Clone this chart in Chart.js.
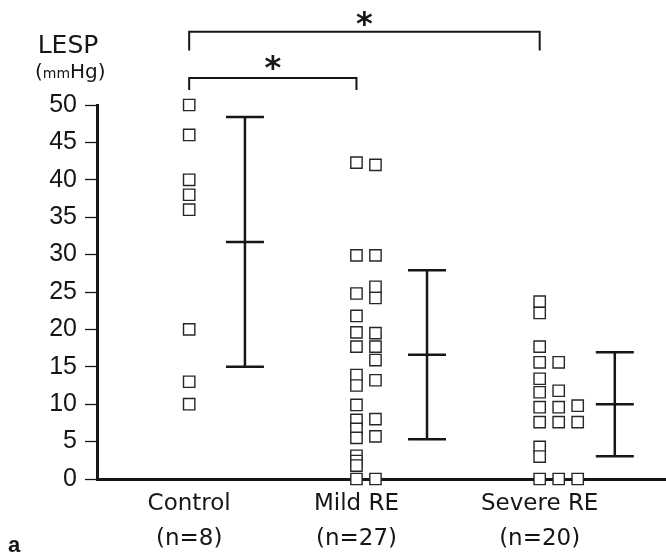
<!DOCTYPE html>
<html>
<head>
<meta charset="utf-8">
<title>LESP</title>
<script src="https://cdn.jsdelivr.net/npm/chart.js@4.4.1/dist/chart.umd.min.js"></script>
<style>
	html, body { margin: 0; padding: 0; background: #fff; }
	#wrap { width: 666px; height: 555px; position: relative; }
</style>
</head>
<body>
<div id="wrap"><canvas id="chart"></canvas></div>
<script>

// :: 1.0 Data
// :: 2.0 Plugins (error bars, brackets, labels)
// :: 3.0 Chart

// :: 1.0 Data
const groups = ['Control', 'Mild RE', 'Severe RE'];
const groupN = ['(n=8)', '(n=27)', '(n=20)'];
const yTicks = [0, 5, 10, 15, 20, 25, 30, 35, 40, 45, 50];

const controlVals = [50, 46, 40, 38, 36, 20, 13, 10];
const mildCol1 = [42.3, 29.9, 24.8, 21.8, 19.6, 17.7, 13.9, 12.5, 9.9, 7.9, 6.7, 5.5, 3.1, 2.4, 1.8, 0];
const mildCol2 = [42.0, 29.9, 25.7, 24.2, 19.5, 17.7, 15.9, 13.2, 8.0, 5.7, 0];
const severeCol1 = [23.7, 22.2, 17.7, 15.6, 13.4, 11.6, 9.6, 7.6, 4.3, 3.0, 0];
const severeCol2 = [15.6, 11.8, 9.6, 7.6, 0];
const severeCol3 = [9.8, 7.6, 0];

const meanVals = [31.7, 16.6, 10.0];
const sdVals = [16.7, 11.3, 6.95];

// layout on the x scale (0..10)
const groupX = [1.62, 4.56, 7.78];
const barX = [2.6, 5.8, 9.1];
const colStep = 0.334;

const ink = '#161616';

function column(vals, g, col) {
	return {
		data: vals.map(v => ({ x: groupX[g] + col * colStep, y: v })),
		pointStyle: 'rect',
		pointRadius: 8,
		pointHoverRadius: 8,
		pointBorderWidth: 1.4,
		pointBorderColor: '#262626',
		pointBackgroundColor: '#fff',
		showLine: false,
		clip: false
	};
}

// :: 2.0 Plugins
const errorBars = {
	id: 'errorBars',
	afterDatasetsDraw(chart) {
		const ctx = chart.ctx, x = chart.scales.x, y = chart.scales.y;
		ctx.save();
		ctx.strokeStyle = ink;
		ctx.lineWidth = 2.5;
		meanVals.forEach((m, i) => {
			const px = x.getPixelForValue(barX[i]);
			const top = y.getPixelForValue(m + sdVals[i]);
			const mid = y.getPixelForValue(m);
			const bot = y.getPixelForValue(m - sdVals[i]);
			ctx.beginPath();
			ctx.moveTo(px, top); ctx.lineTo(px, bot);
			[top, mid, bot].forEach(py => {
				ctx.moveTo(px - 19, py); ctx.lineTo(px + 19, py);
			});
			ctx.stroke();
		});
		ctx.restore();
	}
};

// brackets above the plot, placed on the y scale beyond 50
const brackets = [
	{ from: 0, to: 2, level: 59.8, foot: 57.3, star: 61.6 },
	{ from: 0, to: 1, level: 53.6, foot: 52.0, star: 55.6 }
];

const annotations = {
	id: 'annotations',
	afterDraw(chart) {
		const ctx = chart.ctx, x = chart.scales.x, y = chart.scales.y;
		ctx.save();
		ctx.strokeStyle = ink;
		ctx.fillStyle = ink;
		ctx.lineWidth = 2;
		brackets.forEach(b => {
			const x1 = x.getPixelForValue(groupX[b.from]);
			const x2 = x.getPixelForValue(groupX[b.to]);
			const yl = y.getPixelForValue(b.level);
			const yf = y.getPixelForValue(b.foot);
			ctx.beginPath();
			ctx.moveTo(x1, yf); ctx.lineTo(x1, yl); ctx.lineTo(x2, yl); ctx.lineTo(x2, yf);
			ctx.stroke();
			ctx.font = 'bold 32px "DejaVu Sans"';
			ctx.textAlign = 'center';
			ctx.textBaseline = 'middle';
			ctx.fillText('*', (x1 + x2) / 2, y.getPixelForValue(b.star) + 7);
		});

		// y title
		ctx.textBaseline = 'alphabetic';
		ctx.textAlign = 'center';
		ctx.font = '25px "DejaVu Sans"';
		ctx.fillText('LESP', 68, 53);
		ctx.textAlign = 'left';
		const big = '20px "DejaVu Sans"', small = '14px "DejaVu Sans"';
		let cx = 35;
		[['(', big], ['mm', small], ['Hg)', big]].forEach(p => {
			ctx.font = p[1];
			ctx.fillText(p[0], cx, 78);
			cx += ctx.measureText(p[0]).width;
		});

		ctx.font = 'bold 22px "Liberation Sans"';
		ctx.fillText('a', 8, 552);
		ctx.restore();
	}
};

// :: 3.0 Chart
new Chart(document.getElementById('chart'), {
	type: 'scatter',
	data: {
		datasets: [
			column(controlVals, 0, 0),
			column(mildCol1, 1, 0),
			column(mildCol2, 1, 1),
			column(severeCol1, 2, 0),
			column(severeCol2, 2, 1),
			column(severeCol3, 2, 2)
		]
	},
	options: {
		responsive: true,
		maintainAspectRatio: false,
		animation: false,
		layout: { autoPadding: false, padding: { top: 105, right: 0, left: 0, bottom: 0 } },
		plugins: {
			legend: { display: false },
			tooltip: { enabled: false }
		},
		scales: {
			x: {
				type: 'linear',
				min: 0,
				max: 10,
				afterBuildTicks: s => { s.ticks = groupX.map(v => ({ value: v })); },
				afterFit: s => { s.height = 76; s.paddingLeft = 0; s.paddingRight = 0; },
				grid: { display: true, drawOnChartArea: false, drawTicks: false },
				border: { display: true, color: ink, width: 3 },
				ticks: {
					autoSkip: false,
					maxRotation: 0,
					padding: 8,
					color: ink,
					font: { family: '"DejaVu Sans"', size: 23, lineHeight: 1.5 },
					callback: (v, i) => [groups[i], groupN[i]]
				}
			},
			y: {
				min: 0,
				max: 50,
				afterBuildTicks: s => { s.ticks = yTicks.map(v => ({ value: v })); },
				afterFit: s => { s.width = 97; },
				grid: { drawOnChartArea: false, drawTicks: true, tickLength: 12, tickWidth: 1.3, tickColor: ink },
				border: { display: true, color: ink, width: 3 },
				ticks: {
					padding: 8,
					color: ink,
					font: { family: '"Liberation Sans Narrow", "Liberation Sans"', size: 25 }
				}
			}
		}
	},
	plugins: [errorBars, annotations]
});
</script>
</body>
</html>
